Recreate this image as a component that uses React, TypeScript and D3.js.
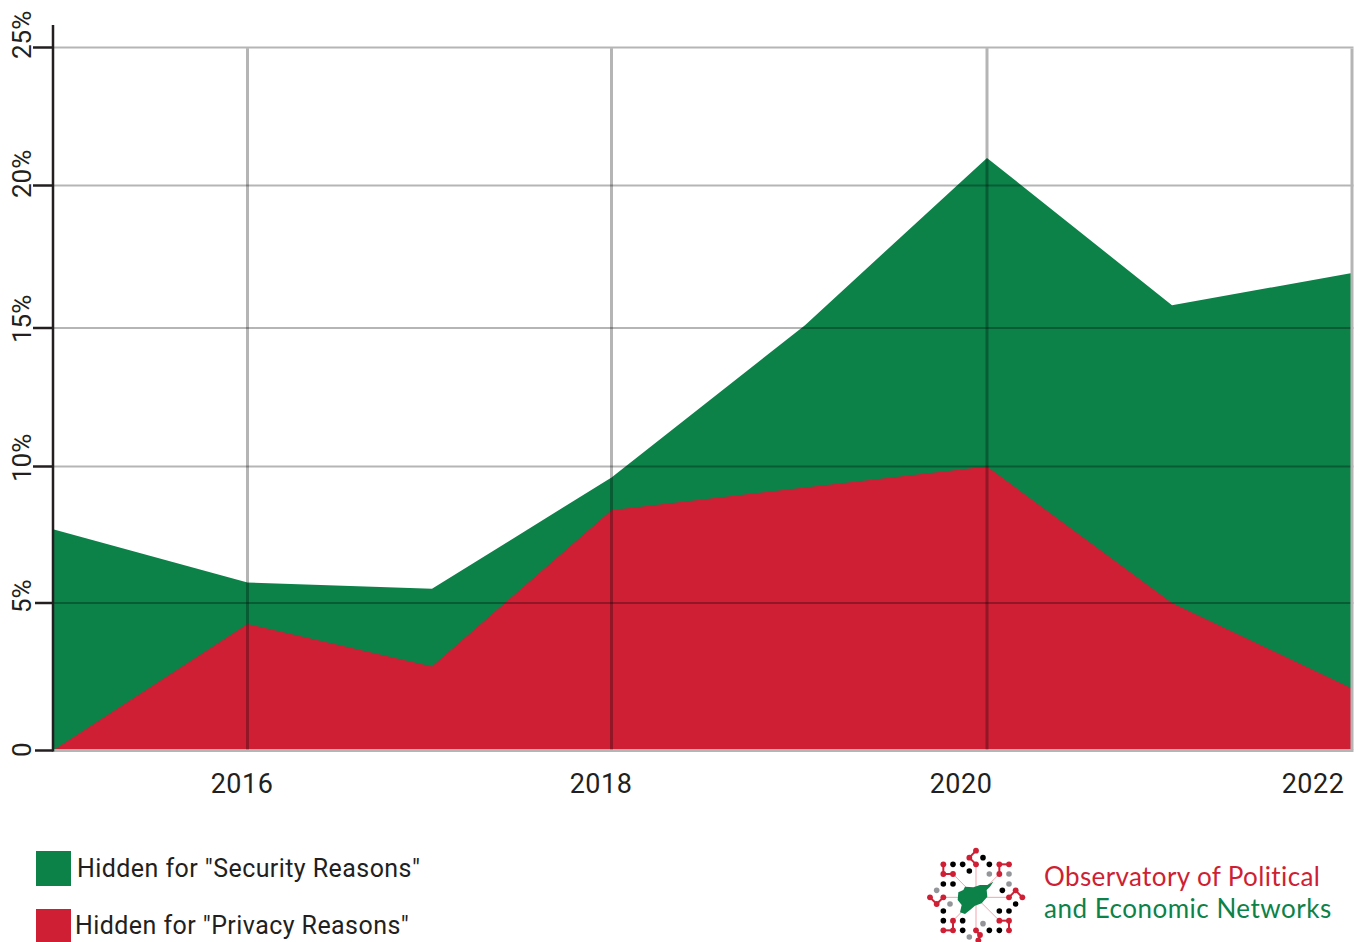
import React from "react";
import * as d3 from "d3";

const years = [2015, 2016, 2017, 2018, 2019, 2020, 2021, 2022];
const totalHidden = [7.7, 5.75, 5.52, 9.6, 15.1, 21.0, 15.8, 16.93];
const privacyHidden = [0, 4.29, 2.85, 8.4, 9.23, 10, 5, 2.1];
const yTickValues = [0, 5, 10, 15, 20, 25];
const yTickLabels = ["0", "5%", "10%", "15%", "20%", "25%"];
const xGridYears = [2016, 2018, 2020, 2022];
const xTickLabels = ["2016", "2018", "2020", "2022"];
const legendLabels = ['Hidden for "Security Reasons"', 'Hidden for "Privacy Reasons"'];
const logoLines = ["Observatory of Political", "and Economic Networks"];

// Axis calibration (the source's axes are hand placed)
const xRange = [53, 247.5, 432, 611.5, 805, 987, 1172, 1352];
const yRange = [750.5, 603, 466.5, 328, 185.5, 47.5];
const xLabelCenters = [242, 601, 961, 1313];
const yLabelStarts = [757, 613, 482, 343, 198, 59];

const GREEN = "#0c8249";
const RED = "#ce1f35";
const INK = "#231f20";
const GRID = "rgba(0,0,0,0.29)";
const FONT = "Roboto, sans-serif";

// Logo artwork in zoomed-crop coordinates
const logoRed: [number, number][] = [[198,47],[178,68],[198,88],[100,88],[100,117],[129,117],[268,88],[297,88],[268,117],[317,166],[297,187],[337,187],[60,187],[80,207],[100,187],[268,257],[297,257],[297,286],[129,257],[129,286],[100,286],[198,286],[210,300],[205,316]];
const logoBlack: [number, number][] = [[219,68],[129,88],[158,88],[178,108],[238,88],[100,147],[129,147],[277,166],[317,207],[268,228],[297,228],[100,228],[100,257],[158,257],[158,286],[238,286],[268,286]];
const logoGray: [number, number][] = [[238,117],[297,117],[297,147],[80,166],[120,207],[219,266],[178,306]];
const logoLinks: [number, number, number, number][] = [[198,47,178,68],[178,68,198,88],[100,88,100,117],[100,117,129,117],[268,88,297,88],[268,88,268,117],[317,166,297,187],[317,166,337,187],[60,187,80,207],[80,207,100,187],[268,257,297,257],[297,257,297,286],[129,257,129,286],[129,286,100,286],[198,286,210,300],[210,300,205,316]];
const logoSpokes: [number, number][] = [[198,88],[268,117],[297,187],[268,257],[198,286],[129,257],[100,187],[129,117]];
const syriaShape: [number, number][] = [[145,172],[160,165],[165,155],[190,157],[210,150],[232,150],[250,140],[240,155],[230,165],[232,185],[215,205],[195,212],[180,225],[165,237],[150,232],[155,210],[143,195]];

export default function App() {
  const x = d3.scaleLinear().domain(years).range(xRange);
  const y = d3.scaleLinear().domain(yTickValues).range(yRange);
  const lx = d3.scaleLinear().domain([0, 390]).range([910, 1040]);
  const ly = d3.scaleLinear().domain([0, 321]).range([835, 942]);

  const area = d3
    .area<number>()
    .x((_, i) => x(years[i]))
    .y0(y(0))
    .y1((d) => y(d));
  const spokeLine = d3.line<[number, number]>().x((d) => lx(d[0])).y((d) => ly(d[1]));

  return (
    <svg
      width={1362}
      height={942}
      viewBox="0 0 1362 942"
      style={{ position: "absolute", left: 0, top: 0, display: "block", background: "#fff" }}
    >
      <path d={area(totalHidden) ?? ""} fill={GREEN} />
      <path d={area(privacyHidden) ?? ""} fill={RED} />

      {yTickValues.map((v) => (
        <line
          key={v}
          x1={x(2015)}
          x2={x(2022) + 1.5}
          y1={y(v)}
          y2={y(v)}
          stroke={v === 0 ? "#b5b5b5" : GRID}
          strokeWidth={v === 0 ? 3 : 2}
        />
      ))}
      {xGridYears.map((yr) => (
        <line
          key={yr}
          x1={x(yr)}
          x2={x(yr)}
          y1={y(25) + 1}
          y2={y(0) - 1}
          stroke={yr === 2022 ? "#b5b5b5" : GRID}
          strokeWidth={3}
        />
      ))}

      <line x1={x(2015)} x2={x(2015)} y1={25} y2={y(0) + 1} stroke={INK} strokeWidth={2.5} />
      {yTickValues.map((v) => (
        <line key={v} x1={v === 0 || v === 5 ? 35 : 33} x2={x(2015)} y1={y(v)} y2={y(v)} stroke={INK} strokeWidth={2.5} />
      ))}

      {yTickLabels.map((t, i) => (
        <text
          key={t}
          transform={`translate(31,${yLabelStarts[i]}) rotate(-90)`}
          fontFamily={FONT}
          fontSize={26}
          fill={INK}
        >
          {t}
        </text>
      ))}

      {xTickLabels.map((t, i) => (
        <text
          key={t}
          x={xLabelCenters[i]}
          y={793}
          textAnchor="middle"
          fontFamily={FONT}
          fontSize={27}
          fill={INK}
          letterSpacing={0.5}
        >
          {t}
        </text>
      ))}

      <rect x={36} y={851} width={35} height={35} fill={GREEN} />
      <rect x={36} y={909} width={35} height={33} fill={RED} />
      <text x={77} y={877} fontFamily={FONT} fontSize={25} fill={INK} letterSpacing={0.43}>
        {legendLabels[0]}
      </text>
      <text x={75} y={934} fontFamily={FONT} fontSize={25} fill={INK} letterSpacing={0.43}>
        {legendLabels[1]}
      </text>

      <g>
        {logoSpokes.map((p, i) => (
          <path
            key={i}
            d={spokeLine([[198, 187], p]) ?? ""}
            stroke="#f0a5ae"
            strokeWidth={1}
            fill="none"
          />
        ))}
        <path d={(spokeLine(syriaShape) ?? "") + "Z"} fill={GREEN} />
        {logoLinks.map((l, i) => (
          <line key={i} x1={lx(l[0])} y1={ly(l[1])} x2={lx(l[2])} y2={ly(l[3])} stroke={RED} strokeWidth={2} />
        ))}
        {logoRed.map((p, i) => <circle key={i} cx={lx(p[0])} cy={ly(p[1])} r={2.9} fill={RED} />)}
        {logoBlack.map((p, i) => <circle key={i} cx={lx(p[0])} cy={ly(p[1])} r={2.8} fill="#000" />)}
        {logoGray.map((p, i) => <circle key={i} cx={lx(p[0])} cy={ly(p[1])} r={2.8} fill="#939598" />)}
      </g>

      <text x={1044} y={886} fontFamily="Lato, sans-serif" fontSize={26} fill={RED} letterSpacing={0.38}>
        {logoLines[0]}
      </text>
      <text x={1044} y={917.5} fontFamily="Lato, sans-serif" fontSize={26} fill={GREEN} letterSpacing={0.5}>
        {logoLines[1]}
      </text>
    </svg>
  );
}
